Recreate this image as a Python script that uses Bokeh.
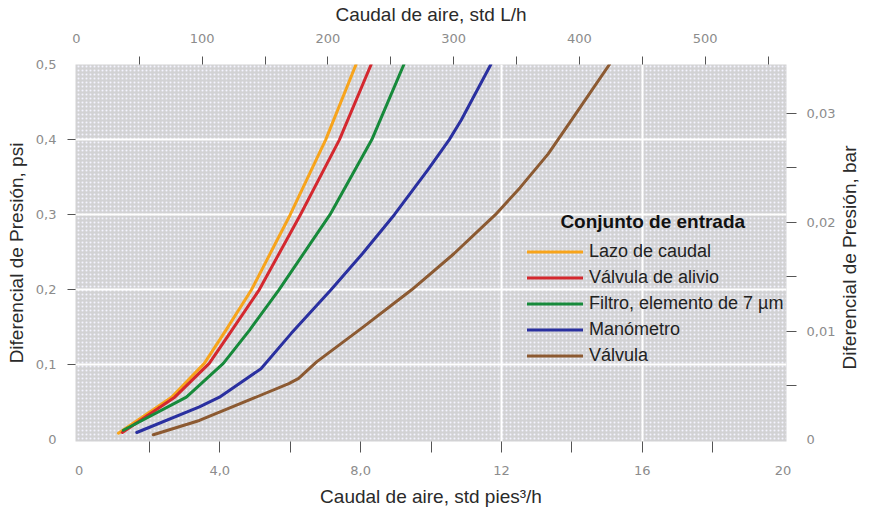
import math
from bokeh.plotting import figure
from bokeh.models import (Range1d, LinearAxis, FixedTicker, CustomJSTickFormatter,
                          Label, BoxAnnotation)
from bokeh.embed import file_html
from bokeh.resources import INLINE

# ---------------- data (x: std ft3/h, y: psi) ----------------
series_names = ["Lazo de caudal", "Válvula de alivio", "Filtro, elemento de 7 µm",
                "Manómetro", "Válvula"]
series_colors = ["#f7a41c", "#d4282f", "#178a3b", "#2a30a0", "#8c5a32"]

lazo_x = [1.12, 2.63, 3.56, 4.17, 4.90, 6.00, 7.01, 7.87]
lazo_y = [0.009, 0.057, 0.102, 0.146, 0.200, 0.300, 0.400, 0.500]

alivio_x = [1.23, 2.72, 3.70, 4.34, 5.12, 6.29, 7.40, 8.30]
alivio_y = [0.010, 0.057, 0.102, 0.146, 0.200, 0.300, 0.400, 0.500]

filtro_x = [1.26, 3.05, 4.10, 4.84, 5.68, 7.13, 8.32, 9.23]
filtro_y = [0.013, 0.057, 0.102, 0.146, 0.200, 0.300, 0.400, 0.500]

mano_x = [1.64, 3.42, 3.99, 5.17, 6.03, 7.16, 8.05, 8.96, 9.90, 10.52, 10.86, 11.70]
mano_y = [0.010, 0.044, 0.057, 0.095, 0.142, 0.200, 0.248, 0.300, 0.359, 0.400, 0.426, 0.500]

valv_x = [2.11, 3.42, 5.96, 6.24, 6.75, 8.06, 9.45, 10.65, 11.83, 12.53, 13.33, 13.99, 15.07]
valv_y = [0.007, 0.026, 0.075, 0.082, 0.104, 0.150, 0.200, 0.248, 0.300, 0.336, 0.381, 0.426, 0.500]

series_x = [lazo_x, alivio_x, filtro_x, mano_x, valv_x]
series_y = [lazo_y, alivio_y, filtro_y, mano_y, valv_y]

# tick labels
bottom_ticks = [0, 4, 8, 12, 16, 20]
bottom_labels = ["0", "4,0", "8,0", "12", "16", "20"]
bottom_minor = [2, 4, 6, 8, 10, 12, 14, 16, 18]

top_ticks = [0, 100, 200, 300, 400, 500]
top_labels = ["0", "100", "200", "300", "400", "500"]
top_minor = [50, 100, 150, 200, 250, 300, 350, 400, 450, 500, 550]

left_ticks = [0, 0.1, 0.2, 0.3, 0.4, 0.5]
left_labels = ["0", "0,1", "0,2", "0,3", "0,4", "0,5"]
left_minor = [0.1, 0.2, 0.3, 0.4]

right_ticks = [0, 0.01, 0.02, 0.03]
right_labels = ["0", "0,01", "0,02", "0,03"]
right_minor = [0.005, 0.01, 0.015, 0.02, 0.025, 0.03]

right_title = "Diferencial de Presión, bar"
right_title_start = [0.094]   # psi level where the rotated right title begins

PSI_TO_BAR = 0.0689476
X_START, X_END = -0.1, 20.1
Y_START, Y_END = -0.002, 0.5
LPH_START, LPH_END = -0.79, 564.7

TICK_FONT = "DejaVu Sans"
TEXT_FONT = "Liberation Sans"
TITLE_COLOR = "#2a2a2a"

def fmt(vals, labels):
    return CustomJSTickFormatter(args=dict(tvals=vals, tlabels=labels), code="""
        const i = tvals.findIndex(t => Math.abs(t - tick) < 1e-7);
        return i >= 0 ? tlabels[i] : "";
    """)

p = figure(width=873, height=515, output_backend="svg", toolbar_location=None,
           title=None, x_range=Range1d(X_START, X_END), y_range=Range1d(Y_START, Y_END),
           x_axis_location=None, y_axis_location=None,
           min_border_left=75, min_border_right=81, min_border_top=64, min_border_bottom=74)
p.outline_line_color = None
p.background_fill_color = "#d2d2d4"
p.border_fill_color = "white"

# dotted texture
p.add_layout(BoxAnnotation(fill_alpha=0, line_alpha=0, level="image",
                           hatch_pattern="dot", hatch_color="#f4f4ff",
                           hatch_scale=4, hatch_weight=2.0, hatch_alpha=1.0))

p.extra_x_ranges = {"lph": Range1d(LPH_START, LPH_END)}
p.extra_y_ranges = {"bar": Range1d(Y_START * PSI_TO_BAR, Y_END * PSI_TO_BAR)}

def style_axis(ax, ticks, minor, labels, tick_out, standoff, title=None, title_standoff=0):
    ax.ticker = FixedTicker(ticks=ticks, minor_ticks=minor)
    ax.formatter = fmt(ticks, labels)
    ax.axis_line_color = None
    ax.major_tick_in = 0
    ax.major_tick_out = 0
    ax.minor_tick_in = 0
    ax.minor_tick_out = tick_out
    ax.minor_tick_line_color = "#555555"
    ax.minor_tick_line_width = 1
    ax.major_label_standoff = standoff
    ax.major_label_text_font = TICK_FONT
    ax.major_label_text_font_size = "13px"
    ax.major_label_text_color = "#8c8c8c"
    if title is not None:
        ax.axis_label = title
        ax.axis_label_standoff = title_standoff
        ax.axis_label_text_font = TEXT_FONT
        ax.axis_label_text_font_size = "19px"
        ax.axis_label_text_font_style = "normal"
        ax.axis_label_text_color = TITLE_COLOR

bottom = LinearAxis()
style_axis(bottom, bottom_ticks, bottom_minor, bottom_labels, 11, 13,
           "Caudal de aire, std pies³/h", 8)
p.add_layout(bottom, "below")

top = LinearAxis(x_range_name="lph")
style_axis(top, top_ticks, top_minor, top_labels, 8, 14,
           "Caudal de aire, std L/h", 6)
p.add_layout(top, "above")

left = LinearAxis()
style_axis(left, left_ticks, left_minor, left_labels, 8, 11,
           "Diferencial de Presión, psi", 6)
p.add_layout(left, "left")

right = LinearAxis(y_range_name="bar")
style_axis(right, right_ticks, right_minor, right_labels, 10, 10)
p.add_layout(right, "right")

# right-hand title, drawn as the single (rotated) label of an outer axis
right_t = LinearAxis()
right_t.ticker = FixedTicker(ticks=right_title_start, minor_ticks=[])
right_t.formatter = fmt(right_title_start, [right_title])
right_t.axis_line_color = None
right_t.major_tick_line_color = None
right_t.major_tick_in = 0
right_t.major_tick_out = 0
right_t.minor_tick_in = 0
right_t.minor_tick_out = 0
right_t.major_label_orientation = math.pi / 2
right_t.major_label_standoff = 11
right_t.major_label_text_font = TEXT_FONT
right_t.major_label_text_font_size = "19px"
right_t.major_label_text_color = TITLE_COLOR
p.add_layout(right_t, "right")

# grid
p.xgrid.ticker = FixedTicker(ticks=[12, 16])
p.ygrid.ticker = FixedTicker(ticks=[0.1, 0.2, 0.3, 0.4])
p.grid.grid_line_color = "white"
p.grid.grid_line_width = 2

# curves
for name, color, xs, ys in zip(series_names, series_colors, series_x, series_y):
    p.line(xs, ys, line_color=color, line_width=3, line_join="round",
           line_cap="round", legend_label=name)

lg = p.legend[0]
lg.location = (452, 75)
lg.padding = 0
lg.margin = 0
lg.spacing = 5
lg.glyph_width = 56
lg.glyph_height = 21
lg.label_height = 21
lg.label_standoff = 6
lg.background_fill_alpha = 0
lg.border_line_alpha = 0
lg.label_text_font = TEXT_FONT
lg.label_text_font_size = "18px"
lg.label_text_color = "#222222"

p.add_layout(Label(x=16.30, y=0.291, text="Conjunto de entrada",
                   text_align="center", text_baseline="middle",
                   text_font=TEXT_FONT, text_font_size="19px",
                   text_font_style="bold", text_color="#111111"))

open("out.html", "w").write(file_html(p, INLINE))
